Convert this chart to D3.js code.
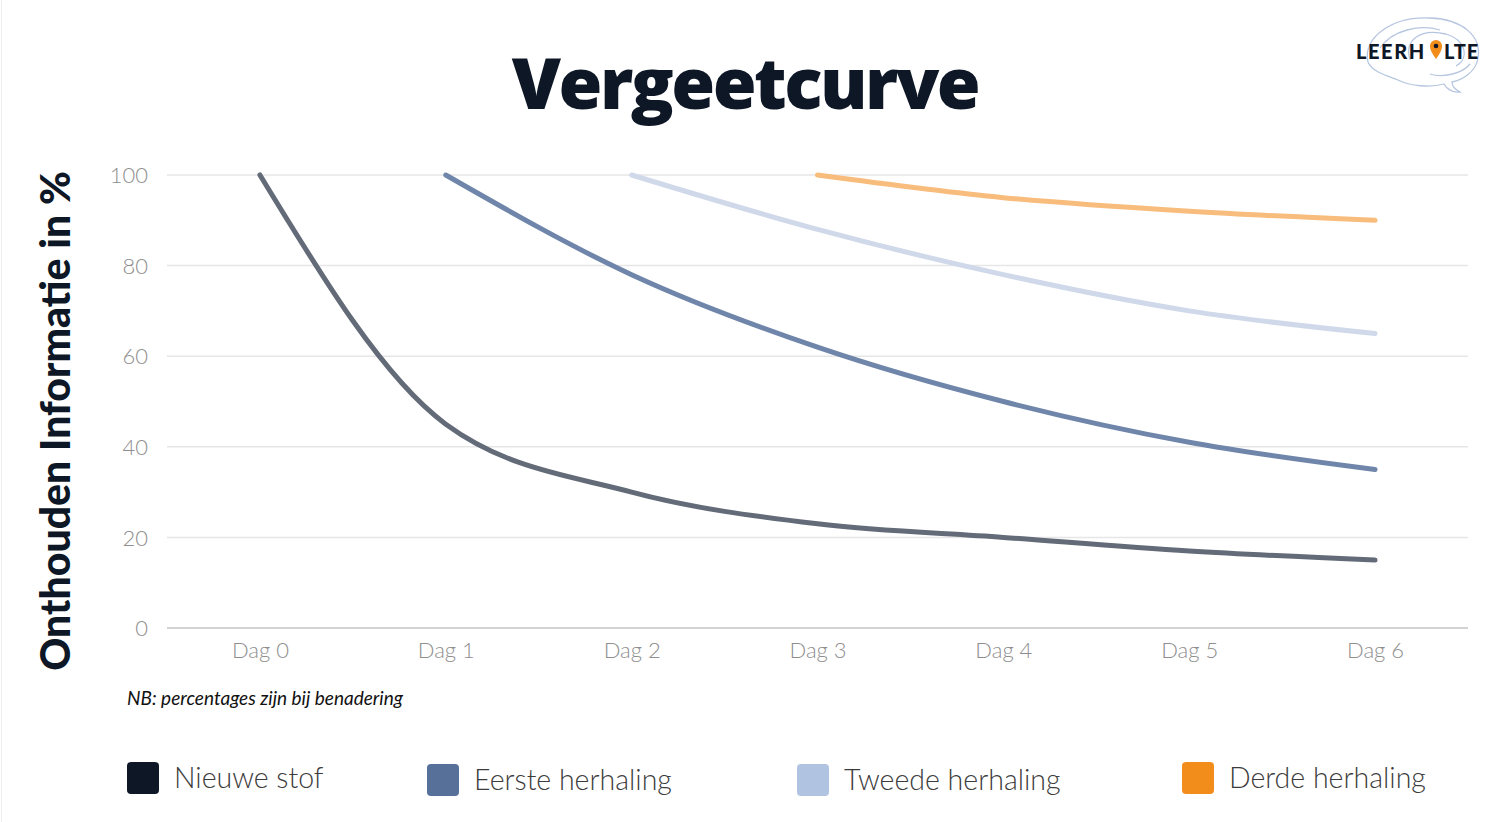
<!DOCTYPE html>
<html><head><meta charset="utf-8">
<script src="https://cdn.jsdelivr.net/npm/d3@7"></script>
<style>
html,body{margin:0;padding:0;background:#fff;}
svg{display:block;}
</style></head>
<body>
<svg id="chart" width="1500" height="822"></svg>
<script>
const days = ["Dag 0","Dag 1","Dag 2","Dag 3","Dag 4","Dag 5","Dag 6"];
const yTicks = [0,20,40,60,80,100];
const seriesNames = ["Nieuwe stof","Eerste herhaling","Tweede herhaling","Derde herhaling"];
const nieuweStof = [100,45,30,23,20,17,15];
const eersteHerhaling = [null,100,78,62,50,41,35];
const tweedeHerhaling = [null,null,100,88,78,70,65];
const derdeHerhaling = [null,null,null,100,95,92,90];
const legendColors = ["#0d1726","#56709a","#b0c3e0","#f28c1a"];
const lineColors = ["#636b78","#6f86aa","#d0d9ea","#f8bc7c"];

const svg = d3.select("#chart");
svg.append("rect").attr("x",0).attr("y",0).attr("width",1500).attr("height",822).attr("fill","#fff");
svg.append("line").attr("x1",1.5).attr("x2",1.5).attr("y1",0).attr("y2",822).attr("stroke","#eceef2").attr("stroke-width",1);

const x = d3.scalePoint().domain(days).range([167,1468]).padding(0.5);
const y = d3.scaleLinear().domain([0,100]).range([628,175]);

// gridlines
const grid = svg.append("g");
grid.selectAll("line").data(yTicks).join("line")
  .attr("x1",167).attr("x2",1468)
  .attr("y1",d=>y(d)).attr("y2",d=>y(d))
  .attr("stroke",d=>d===0?"#c4c4c4":"#e6e6e6").attr("stroke-width",1.5);

// y axis labels
const yAxis = svg.append("g").attr("transform","translate(148,0)")
  .call(d3.axisLeft(y).tickValues(yTicks).tickSize(0).tickPadding(0));
yAxis.select(".domain").remove();
yAxis.selectAll("text").attr("font-family","Lato, 'Open Sans', sans-serif").attr("font-weight",300)
  .attr("font-size",22).attr("fill","#8e8e8e").attr("dy","0.35em");

// x axis labels
const xAxis = svg.append("g").attr("transform","translate(0,628)")
  .call(d3.axisBottom(x).tickSize(0).tickPadding(14));
xAxis.select(".domain").remove();
xAxis.selectAll("text").attr("font-family","Lato, 'Open Sans', sans-serif").attr("font-weight",300)
  .attr("font-size",22).attr("fill","#8e8e8e").attr("dy","0.71em");

// lines
const allSeries = [nieuweStof,eersteHerhaling,tweedeHerhaling,derdeHerhaling];
const line = d3.line().defined(d=>d.v!=null).x(d=>x(d.day)).y(d=>y(d.v)).curve(d3.curveMonotoneX);
allSeries.forEach((s,i)=>{
  const pts = s.map((v,j)=>({day:days[j],v:v})).filter(d=>d.v!=null);
  svg.append("path").datum(pts).attr("d",line)
    .attr("fill","none").attr("stroke",lineColors[i]).attr("stroke-width",5)
    .attr("stroke-linecap","round").attr("stroke-linejoin","round");
});

// title
svg.append("text").attr("x",745).attr("y",109).attr("text-anchor","middle")
  .attr("font-family","'Open Sans', 'Noto Sans', sans-serif").attr("font-weight",800)
  .attr("font-size",71).attr("fill","#0d1726").attr("letter-spacing","-2.5").text("Vergeetcurve");

// y title
svg.append("text").attr("transform","translate(70,421) rotate(-90)").attr("text-anchor","middle")
  .attr("font-family","Lato, sans-serif").attr("font-weight",900)
  .attr("font-size",41).attr("fill","#0d1726").text("Onthouden Informatie in %");

// note
svg.append("text").attr("x",127).attr("y",705)
  .attr("font-family","Lato, sans-serif").attr("font-style","italic")
  .attr("font-size",19).attr("fill","#111").text("NB: percentages zijn bij benadering");

// legend
const legendX = [127,427,797,1182];
const lg = svg.append("g");
seriesNames.forEach((n,i)=>{
  lg.append("rect").attr("x",legendX[i]).attr("y",i===0||i===3?762:764).attr("width",32).attr("height",32)
    .attr("rx",4).attr("fill",legendColors[i]);
  lg.append("text").attr("x",legendX[i]+47).attr("y",i===0||i===3?788:790)
    .attr("font-family","Lato, sans-serif").attr("font-weight",300)
    .attr("font-size",28.5).attr("fill","#3c3c3c").text(n);
});

// logo
const logo = svg.append("g");
const bc = "#b7c6e0";
logo.append("path").attr("d","M1368,62 C1362,38 1392,16 1430,18 C1462,19 1482,36 1478,58 C1476,72 1462,80 1452,82 C1452,86 1456,90 1460,92 C1452,93 1446,88 1444,84 C1430,88 1410,86 1398,80 C1388,76 1372,72 1368,62 Z")
  .attr("fill","none").attr("stroke",bc).attr("stroke-width",1.3);
logo.append("path").attr("d","M1380,48 C1392,30 1420,24 1440,30 M1410,60 C1404,40 1420,28 1446,34 C1466,40 1470,58 1456,66 M1430,74 C1442,78 1462,74 1470,64")
  .attr("fill","none").attr("stroke",bc).attr("stroke-width",1.3);
logo.append("text").attr("x",1356).attr("y",59)
  .attr("font-family","Lato, sans-serif").attr("font-weight",900).attr("font-size",20)
  .attr("fill","#0d1726").attr("letter-spacing","1.6").text("LEERH");
logo.append("path").attr("d","M1436,59 C1431,52 1430,49 1430,46 A6,6 0 1 1 1442,46 C1442,49 1441,52 1436,59 Z")
  .attr("fill","#f28c1a");
logo.append("circle").attr("cx",1436).attr("cy",46).attr("r",2.3).attr("fill","#0d1726");
logo.append("text").attr("x",1444).attr("y",59)
  .attr("font-family","Lato, sans-serif").attr("font-weight",900).attr("font-size",20)
  .attr("fill","#0d1726").attr("letter-spacing","1").text("LTE");
</script>
</body></html>
